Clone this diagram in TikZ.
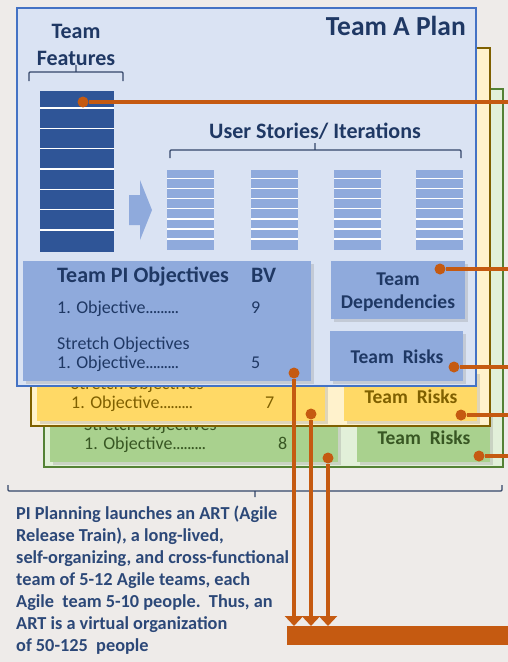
\documentclass[tikz,border=0pt]{standalone}
\usepackage{fontspec}
\setmainfont{Carlito}
\usetikzlibrary{arrows.meta,shadows}
\definecolor{paper}{RGB}{238,235,233}
\definecolor{planblue}{RGB}{218,227,243}
\definecolor{edgeblue}{RGB}{68,114,196}
\definecolor{boxblue}{RGB}{143,170,220}
\definecolor{featblue}{RGB}{47,85,151}
\definecolor{textblue}{RGB}{31,56,100}
\definecolor{planyellow}{RGB}{255,242,204}
\definecolor{edgeyellow}{RGB}{127,96,0}
\definecolor{boxyellow}{RGB}{255,217,102}
\definecolor{textyellow}{RGB}{127,96,0}
\definecolor{plangreen}{RGB}{226,240,217}
\definecolor{edgegreen}{RGB}{84,130,53}
\definecolor{boxgreen}{RGB}{169,209,142}
\definecolor{textgreen}{RGB}{56,87,35}
\definecolor{linkorange}{RGB}{197,90,17}
\definecolor{bracegray}{RGB}{52,70,105}
\definecolor{notetext}{RGB}{44,72,120}
\newcommand\objdots{.\kern-.9pt.\kern-.9pt.\kern-.9pt.\kern-.9pt.\kern-.9pt.\kern-.9pt.\kern-.9pt.\kern-.9pt.}

\begin{document}
\begin{tikzpicture}[x=1pt, y=-1pt,
plan/.style={draw, line width=1.5pt, anchor=north west, inner sep=0pt, outer sep=0pt,
  minimum width=459pt, minimum height=378pt},
card/.style={anchor=north west, inner sep=0pt, outer sep=0pt,
  drop shadow={opacity=.25, shadow xshift=3pt, shadow yshift=-3pt}},
objcard/.style={card, minimum width=288pt, minimum height=120pt},
riskcard/.style={card, minimum width=133pt, minimum height=50pt},
bracket/.style={draw=bracegray, line width=1.3pt, rounded corners=1pt},
rowline/.style={draw=white, line width=1.3pt},
link/.style={draw=linkorange, line width=3.6pt},
dot/.style={circle, fill=linkorange, minimum size=11pt, inner sep=0pt},
head/.style={inner sep=0pt, font=\fontsize{22}{27}\selectfont\bfseries, text=textblue},
small/.style={inner sep=0pt, font=\fontsize{19.5}{23}\selectfont\bfseries},
body/.style={inner sep=0pt, font=\fontsize{18}{21}\selectfont, anchor=base west},
]
\path[use as bounding box, fill=paper] (0,0) rectangle (508,662);

% third plan (green)
\begin{scope}[shift={(27,81)}]
\node[plan, draw=edgegreen, fill=plangreen] (planC) at (17,8) {};
\node[objcard, fill=boxgreen] (objC) at (23,261) {};
\node[body, text=textgreen] (stretchC) at (57,349) {Stretch Objectives};
\node[body, text=textgreen] (itemC) at (57,368) {1. Objective\objdots};
\node[body, text=textgreen] (bvC) at (251,368) {8};
\node[riskcard, fill=boxgreen] (risksC) at (330,331) {};
\node[small, anchor=base, text=textgreen] (riskslabelC) at (397,363) {Team\ \ Risks};
\end{scope}

% second plan (yellow)
\begin{scope}[shift={(14,40)}]
\node[plan, draw=edgeyellow, fill=planyellow] (planB) at (17,8) {};
\node[objcard, fill=boxyellow] (objB) at (23,261) {};
\node[body, text=textyellow] (stretchB) at (57,349) {Stretch Objectives};
\node[body, text=textyellow] (itemB) at (57,368) {1. Objective\objdots};
\node[body, text=textyellow] (bvB) at (251,368) {7};
\node[riskcard, fill=boxyellow] (risksB) at (330,331) {};
\node[small, anchor=base, text=textyellow] (riskslabelB) at (397,363) {Team\ \ Risks};
\end{scope}

% team A plan
\node[plan, draw=edgeblue, fill=planblue] (planA) at (17,8) {};
\node[inner sep=0pt, anchor=base east, font=\fontsize{27.5}{33}\selectfont\bfseries, text=textblue] (title) at (466,35) {Team A Plan};

\node[head, anchor=base, align=center] (featlabel) at (76,65) {Team\\Features};
\draw[bracket] (29,81) -- (29,72) -- (123,72) -- (123,81) (76,72) -- (76,65);
\node[anchor=north west, fill=featblue, minimum width=74pt, minimum height=161pt, inner sep=0pt] (features) at (40,91) {};
\foreach \k in {0,...,6}
  \draw[rowline] (40,108+20.35*\k) -- (114,108+20.35*\k);

\fill[boxblue] (129,195) -- (140,195) -- (140,180) -- (152,210) -- (140,240) -- (140,225) -- (129,225) -- cycle;

\node[head, anchor=base] (storylabel) at (315,138) {User Stories/ Iterations};
\draw[bracket] (170,158) -- (170,150) -- (461,150) -- (461,158) (315,150) -- (315,143);
\foreach \x [count=\i] in {167,251,334,416} {
  \node[anchor=north west, fill=boxblue, minimum width=47pt, minimum height=79.5pt, inner sep=0pt] (story\i) at (\x,170) {};
  \foreach \k in {0,...,6}
    \draw[rowline] (\x,178.5+10.1*\k) -- (\x+47,178.5+10.1*\k);
}

\node[objcard, fill=boxblue] (objA) at (23,261) {};
\node[head, anchor=base west] (objtitle) at (57,282) {Team PI Objectives};
\node[head, anchor=base west] (bvtitle) at (251,282) {BV};
\node[body, text=textblue] (itemA) at (57,313) {1. Objective\objdots};
\node[body, text=textblue] (bvA) at (251,313) {9};
\node[body, text=textblue] (stretchA) at (57,349) {Stretch Objectives};
\node[body, text=textblue] (itemA2) at (57,368) {1. Objective\objdots};
\node[body, text=textblue] (bvA2) at (251,368) {5};

\node[card, fill=boxblue, minimum width=134pt, minimum height=58pt] (depA) at (331,261) {};
\node[small, anchor=base, align=center, text=textblue] (deplabel) at (398,308) {Team\\Dependencies};
\node[riskcard, fill=boxblue] (risksA) at (330,331) {};
\node[small, anchor=base, text=textblue] (riskslabelA) at (397,363) {Team\ \ Risks};

% release train
\draw[bracket] (8,485) -- (8,491) -- (502,491) -- (502,485) (255,491) -- (255,497);
\node[inner sep=0pt, anchor=base west, align=left, font=\fontsize{18.3}{22}\selectfont\bfseries, text=notetext] (note) at (16,651)
  {PI Planning launches an ART (Agile\\Release Train), a long-lived,\\self-organizing, and cross-functional\\team of 5-12 Agile teams, each\\Agile\ \ team 5-10 people.\ \ Thus, an\\ART is a virtual organization\\of 50-125\ \ people};
\node[anchor=north west, fill=linkorange, minimum width=230pt, minimum height=19pt, inner sep=0pt, outer sep=0pt] (art) at (287,626) {};

\coordinate (rim) at (512,0);
\node[dot] (featdot) at (83,102) {};
\node[dot] (depdot) at (440,269) {};
\node[dot] (risksdotA) at (454,367) {};
\node[dot] (risksdotB) at (461,415) {};
\node[dot] (risksdotC) at (479,456) {};
\node[dot] (objdotA) at (294,373) {};
\node[dot] (objdotB) at (311,414) {};
\node[dot] (objdotC) at (328,458) {};
\foreach \d in {featdot,depdot,risksdotA,risksdotB,risksdotC}
  \draw[link] (\d) -- (\d -| rim);
\foreach \d in {objdotA,objdotB,objdotC}
  \draw[link, -{Triangle[width=18pt,length=10pt]}] (\d) -- (\d |- art.north);
\end{tikzpicture}
\end{document}
